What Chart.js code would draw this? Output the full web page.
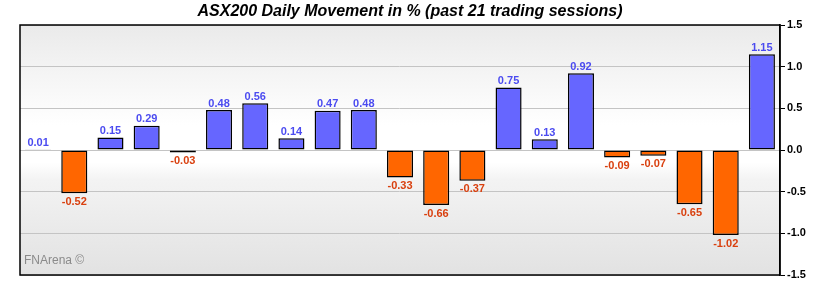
<!DOCTYPE html>
<html>
<head>
<meta charset="utf-8">
<script src="https://cdn.jsdelivr.net/npm/chart.js@4.4.0/dist/chart.umd.min.js"></script>
<style>
  html, body { margin: 0; padding: 0; background: #ffffff; }
  #wrap { width: 820px; height: 290px; }
</style>
</head>
<body>
<div id="wrap"><canvas id="chart" width="820" height="290"></canvas></div>
<script>
// sessions (no labels shown on the x axis)
const sessions = ["1", "2", "3", "4", "5", "6", "7", "8", "9", "10", "11",
    "12", "13", "14", "15", "16", "17", "18", "19", "20", "21"];
// daily movement in %
const movement = [0.01, -0.52, 0.15, 0.29, -0.03, 0.48, 0.56, 0.14, 0.47, 0.48, -0.33,
    -0.66, -0.37, 0.75, 0.13, 0.92, -0.09, -0.07, -0.65, -1.02, 1.15];
const yTicks = [-1.5, -1.0, -0.5, 0.0, 0.5, 1.0, 1.5];
const titleText = 'ASX200 Daily Movement in % (past 21 trading sessions)';

const colUp = '#6666ff';
const colDown = '#ff6600';
const txtUp = '#4b4bf0';
const txtDown = '#d9400f';

// background gradient, frame, title, value labels, watermark
const decorPlugin = {
    id: 'decor',
    beforeDraw(chart) {
        const { ctx, chartArea: a } = chart;
        const g = ctx.createLinearGradient(0, a.top, 0, a.bottom);
        g.addColorStop(0, '#eaeaea');
        g.addColorStop(0.3, '#fafafa');
        g.addColorStop(0.4, '#ffffff');
        g.addColorStop(0.55, '#ffffff');
        g.addColorStop(0.62, '#f3f3f3');
        g.addColorStop(1, '#e2e2e2');
        ctx.save();
        ctx.fillStyle = g;
        ctx.fillRect(a.left, a.top, a.right - a.left, a.bottom - a.top);

        ctx.font = 'italic bold 16px "Liberation Sans", Arial, sans-serif';
        ctx.fillStyle = '#000';
        ctx.textAlign = 'center';
        ctx.textBaseline = 'middle';
        ctx.fillText(titleText, chart.width / 2, 12);
        ctx.restore();
    },
    afterDraw(chart) {
        const { ctx, chartArea: a } = chart;
        ctx.save();
        ctx.strokeStyle = '#000';
        ctx.lineWidth = 1.5;
        ctx.strokeRect(a.left, a.top, a.right - a.left, a.bottom - a.top);

        ctx.font = 'bold 11px "Liberation Sans", Arial, sans-serif';
        ctx.textAlign = 'center';
        const meta = chart.getDatasetMeta(0);
        meta.data.forEach((bar, i) => {
            const v = movement[i];
            const txt = v.toFixed(2);
            if (v >= 0) {
                ctx.fillStyle = txtUp;
                ctx.textBaseline = 'bottom';
                ctx.fillText(txt, bar.x, bar.y - 1);
            } else {
                ctx.fillStyle = txtDown;
                ctx.textBaseline = 'top';
                ctx.fillText(txt, bar.x, bar.y + 3);
            }
        });

        ctx.font = '12px "Liberation Sans", Arial, sans-serif';
        ctx.fillStyle = '#8a8a8a';
        ctx.textAlign = 'left';
        ctx.textBaseline = 'middle';
        ctx.fillText('FNArena \u00A9', a.left + 4, a.bottom - 14);
        ctx.restore();
    }
};

new Chart(document.getElementById('chart').getContext('2d'), {
    type: 'bar',
    data: {
        labels: sessions,
        datasets: [{
            data: movement,
            backgroundColor: movement.map(v => v >= 0 ? colUp : colDown),
            borderColor: '#000',
            borderWidth: 1.5,
            borderSkipped: false,
            barPercentage: 0.72,
            categoryPercentage: 1.0,
        }],
    },
    options: {
        responsive: false,
        animation: false,
        layout: { padding: { left: 20, bottom: 15, top: 25, right: 0 } },
        plugins: {
            legend: { display: false },
            tooltip: { enabled: false },
            title: { display: false },
        },
        scales: {
            x: { display: false },
            y: {
                position: 'right',
                min: -1.5,
                max: 1.5,
                afterBuildTicks(axis) {
                    axis.ticks = yTicks.map(v => ({ value: v }));
                },
                afterFit(axis) { axis.width = 40; },
                ticks: {
                    padding: 2,
                    color: '#000',
                    font: { family: '"Liberation Sans", Arial, sans-serif', size: 11, weight: 'bold' },
                    callback: v => Number(v).toFixed(1),
                },
                grid: {
                    color: '#c4c4c4',
                    tickColor: '#000',
                    tickLength: 5,
                    lineWidth: 1,
                },
                border: { display: true, color: '#000', width: 1.5 },
            },
        },
    },
    plugins: [decorPlugin],
});
</script>
</body>
</html>
